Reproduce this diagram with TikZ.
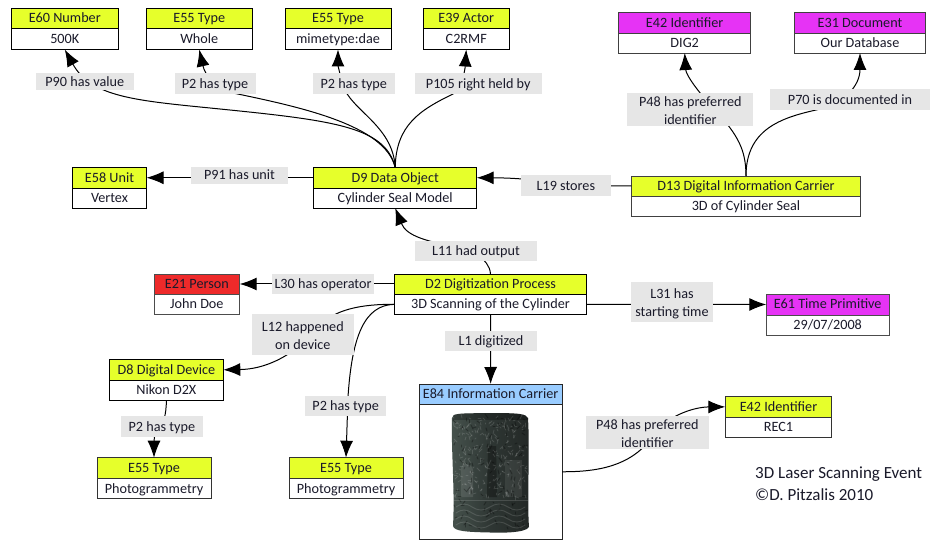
\documentclass[tikz,border=0pt]{standalone}
\usepackage{fontspec}
\setmainfont{Carlito}
\usetikzlibrary{arrows.meta}
\definecolor{cyel}{HTML}{E6FF2B}
\definecolor{cmag}{HTML}{E633F5}
\definecolor{cred}{HTML}{EE2A2A}
\definecolor{cblu}{HTML}{99CCFF}
\definecolor{clab}{HTML}{E6E6E6}
\definecolor{ctxt}{HTML}{1A1A2A}
\definecolor{sealA}{HTML}{46524D}
\definecolor{sealB}{HTML}{2E3633}
\definecolor{sealC}{HTML}{232826}
\tikzset{
  cell/.style={rectangle,inner sep=0pt,outer sep=0pt,align=center,text=ctxt,line width=0.9pt,text height=9.5pt,text depth=0.5pt,font=\fontsize{14.2}{17}\selectfont},
  lab/.style={rectangle,inner sep=0pt,outer sep=0pt,align=center,fill=clab,text=ctxt,text height=9.5pt,text depth=0.5pt,font=\fontsize{14.2}{18}\selectfont},
  labtwo/.style={rectangle,inner sep=0pt,outer sep=0pt,align=center,fill=clab,text=ctxt,font=\fontsize{14.2}{18}\selectfont},
  link/.style={draw=black,line width=1pt},
  arr/.style={link,-{Latex[length=17pt,width=13pt]}},
  seal/.style={line cap=round,line join=round},
}
% x1, x2, y1, ymid, y2, fill, border, name
\newcommand\mkbox[8]{%
  \node[cell,draw=#7,fill=#6,minimum width={(#2-#1)*1pt},minimum height={(#4-#3)*1pt}] (#8h) at ({(#1+#2)/2},{(#3+#4)/2}) {\boxhead};
  \node[cell,draw=#7,fill=white,minimum width={(#2-#1)*1pt},minimum height={(#5-#4)*1pt}] (#8b) at ({(#1+#2)/2},{(#4+#5)/2}) {\boxbody};
}
\newcommand\boxhead{}\newcommand\boxbody{}
\newcommand\bx[2]{\renewcommand\boxhead{#1}\renewcommand\boxbody{#2}}
\newcommand\mklab[6]{%
  \node[lab,minimum width={(#3-#2)*1pt},minimum height={(#5-#4)*1pt}] (#1) at ({(#2+#3)/2},{(#4+#5)/2}) {#6};
}
\newcommand\mklabtwo[7]{%
  \node[labtwo,minimum width={(#3-#2)*1pt},minimum height={(#5-#4)*1pt}] (#1) at ({(#2+#3)/2},{(#4+#5)/2}) {\rule{0pt}{12pt}#6\\#7};
}
\begin{document}
\begin{tikzpicture}[x=1pt,y=-1pt]
\useasboundingbox (0,0) rectangle (930,540);
\fill[white] (0,0) rectangle (930,540);
% boxes
\bx{E60 Number}{500K}\mkbox{11.5}{118}{8.5}{28.5}{49.5}{cyel}{black}{e}
\bx{E55 Type}{Whole}\mkbox{146.5}{252}{8.5}{28.5}{49.5}{cyel}{black}{w}
\bx{E55 Type}{mimetype:dae}\mkbox{285}{391}{8.5}{28.5}{49.5}{cyel}{black}{m}
\bx{E39 Actor}{C2RMF}\mkbox{423}{509.5}{8.5}{28.5}{49.5}{cyel}{black}{a}
\bx{E42 Identifier}{DIG2}\mkbox{618.7}{750.7}{12.5}{33}{53}{cmag}{black!75}{i}
\bx{E31 Document}{Our Database}\mkbox{794.7}{925.3}{12.5}{33}{53}{cmag}{black!75}{o}
\bx{E58 Unit}{Vertex}\mkbox{72.5}{146.5}{167.5}{188}{208}{cyel}{black}{u}
\bx{D9 Data Object}{Cylinder Seal Model}\mkbox{313.7}{476.7}{167.5}{188}{208}{cyel}{black}{d}
\bx{D13 Digital Information Carrier}{3D of Cylinder Seal}\mkbox{631.3}{860.7}{176}{196}{216.8}{cyel}{black!75}{c}
\bx{E21 Person}{John Doe}\mkbox{154}{239.7}{274}{294}{314.7}{cred}{black!70}{p}
\bx{D2 Digitization Process}{3D Scanning of the Cylinder}\mkbox{394.3}{586.7}{274}{294}{314.7}{cyel}{black}{g}
\bx{E61 Time Primitive}{29/07/2008}\mkbox{766.3}{889}{294}{315}{335}{cmag}{black!70}{t}
\bx{D8 Digital Device}{Nikon D2X}\mkbox{109.5}{223.3}{359.3}{380.3}{400.3}{cyel}{black}{v}
\bx{E55 Type}{Photogrammetry}\mkbox{97}{211}{457.7}{478.5}{498.7}{cyel}{black!80}{l}
\bx{E55 Type}{Photogrammetry}\mkbox{289}{403}{457.7}{478.5}{498.7}{cyel}{black!80}{r}
\bx{E84 Information Carrier}{}\mkbox{419.3}{562}{384}{404.5}{539}{cblu}{black!85}{n}
\bx{E42 Identifier}{REC1}\mkbox{725.3}{831.7}{396.7}{417}{437.7}{cyel}{black!80}{k}
% cylinder seal picture
\begin{scope}[seal]
  \path[left color=sealA,right color=sealC,middle color=sealB] (452,418) .. controls (452,413) and (460,413.5) .. (490,413) .. controls (520,413) and (526,414) .. (528,418) .. controls (530,450) and (527,500) .. (529,527) .. controls (526,533) and (500,533) .. (490,532.5) .. controls (465,532) and (454,531) .. (453,526) .. controls (455,490) and (451,450) .. (452,418) -- cycle;
  \clip (452,418) .. controls (452,413) and (460,413.5) .. (490,413) .. controls (520,413) and (526,414) .. (528,418) .. controls (530,450) and (527,500) .. (529,527) .. controls (526,533) and (500,533) .. (490,532.5) .. controls (465,532) and (454,531) .. (453,526) .. controls (455,490) and (451,450) .. (452,418) -- cycle;
  % darker and lighter figure areas
  \fill[white,opacity=0.10] (461,470) .. controls (460,462) and (472,462) .. (473,470) -- (473,497) -- (461,497) -- cycle;
  \fill[black,opacity=0.30] (488,446) -- (496,446) -- (497,497) -- (487,497) -- cycle;
  \fill[white,opacity=0.08] (505,460) -- (522,460) -- (522,497) -- (505,497) -- cycle;
  \fill[black,opacity=0.25] (453,413) rectangle (530,420);
  \pgfmathsetseed{4127}
  % speckled carving in the upper and middle bands
  \foreach \i in {1,...,260}{
    \pgfmathsetmacro{\px}{454+random(0,72)}
    \pgfmathsetmacro{\py}{418+random(0,80)}
    \pgfmathsetmacro{\pa}{random(-3,3)}
    \pgfmathsetmacro{\pb}{random(-4,4)}
    \draw[white,opacity=0.13,line width=0.8pt] (\px,\py) -- ++(\pa,\pb);
  }
  \foreach \i in {1,...,120}{
    \pgfmathsetmacro{\px}{454+random(0,72)}
    \pgfmathsetmacro{\py}{418+random(0,110)}
    \pgfmathsetmacro{\pa}{random(-3,3)}
    \pgfmathsetmacro{\pb}{random(-4,4)}
    \draw[black,opacity=0.30,line width=1pt] (\px,\py) -- ++(\pa,\pb);
  }
  \draw[white,opacity=0.14,line width=0.8pt] (453,500) -- (528,500);
  % wave band
  \foreach \yy in {507,513,519,525}{
    \draw[white,opacity=0.13,line width=0.9pt] (456,\yy) .. controls (462,\yy-4) and (466,\yy-4) .. (472,\yy) .. controls (478,\yy+4) and (484,\yy+4) .. (490,\yy) .. controls (496,\yy-4) and (502,\yy-4) .. (508,\yy) .. controls (514,\yy+4) and (520,\yy+4) .. (525,\yy);}
\end{scope}
% connectors
\draw[arr] (dh.north) .. controls (385,125) and (330,120) .. (200,107) .. controls (130,100) and (90,95) .. (eb.south);
\draw[arr] (dh.north) .. controls (385,125) and (300,107) .. (233,93) .. controls (215,88) and (205,75) .. (wb.south);
\draw[arr] (dh.north) .. controls (393,125) and (350,110) .. (343,85) .. controls (340,75) and (338,65) .. (mb.south);
\draw[arr] (dh.north) .. controls (396,125) and (420,110) .. (453,94) .. controls (462,88) and (465,70) .. (ab.south);
\draw[arr] (dh.west) -- (uh.east);
\draw[arr] (ch.west) .. controls (560,186) and (540,178) .. (dh.east);
\draw[arr] (ch.north) .. controls (746,150) and (738,135) .. (715,110) .. controls (698,92) and (686,75) .. (ib.south);
\draw[arr] (ch.north) .. controls (746,130) and (780,118) .. (816,110) .. controls (845,104) and (860,85) .. (ob.south);
\draw[arr] (gh.north) .. controls (488,240) and (412,250) .. (db.south);
\draw[arr] (gh.west) -- (ph.east);
\draw[arr] (gb.west) .. controls (360,304) and (335,310) .. (320,325) .. controls (305,345) and (275,369) .. (vh.east);
\draw[arr] (gb.west) .. controls (365,305) and (352,335) .. (348,397) -- (rh.north);
\draw[arr] (gb.south) -- (nh.north);
\draw[arr] (gb.east) -- (th.west);
\draw[arr] (vb.south) .. controls (166,432) and (154,428) .. (lh.north);
\draw[arr] (nb.east) .. controls (600,472) and (630,465) .. (650,440) .. controls (665,415) and (695,407) .. (kh.west);
% labels
\mklab{a1}{36}{133.5}{73.5}{90}{P90 has value}
\mklab{a2}{174.5}{255.5}{73.5}{94}{P2 has type}
\mklab{a3}{313}{394.5}{73.5}{94}{P2 has type}
\mklab{a4}{415}{541.5}{73.5}{94}{P105 right held by}
\mklab{a5}{191}{288}{167}{184}{P91 has unit}
\mklab{a6}{521}{610.7}{175.5}{196}{L19 stores}
\mklabtwo{a7}{627.3}{753.3}{93.5}{126.5}{P48 has preferred}{identifier}
\mklab{a8}{770}{930}{89.5}{110}{P70 is documented in}
\mklab{a9}{415}{537}{241}{261}{L11 had output}
\mklab{a10}{272}{374}{273.7}{294}{L30 has operator}
\mklabtwo{a11}{252}{353.7}{314.3}{355}{L12 happened}{on device}
\mklab{a12}{445}{537}{330.7}{351}{L1 digitized}
\mklabtwo{a13}{631}{713}{282}{322.5}{L31 has}{starting time}
\mklab{a14}{121}{202.7}{416.3}{436.7}{P2 has type}
\mklab{a15}{305}{386.3}{396}{416.3}{P2 has type}
\mklabtwo{a16}{586}{708.7}{416}{449}{P48 has preferred}{identifier}
% caption
\node[anchor=west,inner sep=0pt,text=ctxt,font=\fontsize{17}{20}\selectfont] (cap1) at (755,474) {3D Laser Scanning Event};
\node[anchor=west,inner sep=0pt,text=ctxt,font=\fontsize{17}{20}\selectfont] (cap2) at (755,495) {©D. Pitzalis 2010};
\end{tikzpicture}
\end{document}
